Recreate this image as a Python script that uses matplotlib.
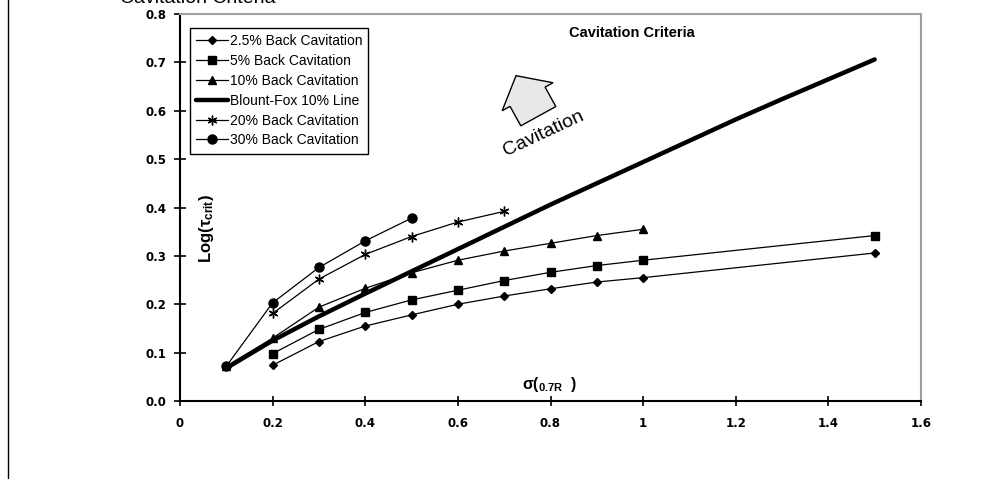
import matplotlib
matplotlib.use("Agg")
import matplotlib.pyplot as plt
import matplotlib.patches as mpatches
from matplotlib.lines import Line2D

plt.rcParams['font.family'] = ['Liberation Sans', 'DejaVu Sans']
plt.rcParams['mathtext.fontset'] = 'custom'
plt.rcParams['mathtext.rm'] = 'Liberation Sans'
plt.rcParams['mathtext.bf'] = 'Liberation Sans:bold'
plt.rcParams['mathtext.it'] = 'Liberation Sans:italic'

# sigma(0.7R) values and Log(tau_crit) per series
x_25 = [0.2, 0.3, 0.4, 0.5, 0.6, 0.7, 0.8, 0.9, 1.0, 1.5]
y_25 = [0.074, 0.123, 0.155, 0.178, 0.200, 0.217, 0.232, 0.246, 0.255, 0.306]

x_5 = [0.2, 0.3, 0.4, 0.5, 0.6, 0.7, 0.8, 0.9, 1.0, 1.5]
y_5 = [0.098, 0.148, 0.183, 0.209, 0.229, 0.249, 0.266, 0.280, 0.291, 0.342]

x_10 = [0.1, 0.2, 0.3, 0.4, 0.5, 0.6, 0.7, 0.8, 0.9, 1.0]
y_10 = [0.072, 0.130, 0.194, 0.233, 0.265, 0.291, 0.310, 0.326, 0.342, 0.355]

x_bf = [0.1, 0.2, 0.3, 0.4, 0.5, 0.6, 0.7, 0.8, 0.9, 1.0, 1.1, 1.2, 1.3, 1.4, 1.5]
y_bf = [0.068, 0.125, 0.175, 0.222, 0.268, 0.314, 0.360, 0.406, 0.450, 0.494,
        0.538, 0.582, 0.624, 0.665, 0.706]

x_20 = [0.2, 0.3, 0.4, 0.5, 0.6, 0.7]
y_20 = [0.181, 0.252, 0.303, 0.340, 0.370, 0.392]

x_30 = [0.1, 0.2, 0.3, 0.4, 0.5]
y_30 = [0.072, 0.203, 0.276, 0.331, 0.378]

xticks = [0, 0.2, 0.4, 0.6, 0.8, 1.0, 1.2, 1.4, 1.6]
xtick_labels = ['0', '0.2', '0.4', '0.6', '0.8', '1', '1.2', '1.4', '1.6']
yticks = [0.0, 0.1, 0.2, 0.3, 0.4, 0.5, 0.6, 0.7, 0.8]
ytick_labels = ['0.0', '0.1', '0.2', '0.3', '0.4', '0.5', '0.6', '0.7', '0.8']

fig = plt.figure(figsize=(10, 4.79), dpi=100)
ax = fig.add_axes([0.18, 0.1628, 0.741, 0.808])

thin = dict(color='black', linewidth=0.9)
asterisk = (6, 2, 0)

ax.plot(x_25, y_25, marker='D', markersize=4.5, label='2.5% Back Cavitation', **thin)
ax.plot(x_5, y_5, marker='s', markersize=5.5, label='5% Back Cavitation', **thin)
ax.plot(x_10, y_10, marker='^', markersize=6, label='10% Back Cavitation', **thin)
ax.plot(x_bf, y_bf, color='black', linewidth=3.2, solid_capstyle='round',
        label='Blount-Fox 10% Line')
ax.plot(x_20, y_20, marker=asterisk, markersize=7, markeredgewidth=1.0,
        label='20% Back Cavitation', **thin)
ax.plot(x_30, y_30, marker='o', markersize=6.5, label='30% Back Cavitation', **thin)

ax.set_xlim(0, 1.6)
ax.set_ylim(0, 0.8)
ax.set_xticks(xticks)
ax.set_xticklabels(xtick_labels)
ax.set_yticks(yticks)
ax.set_yticklabels(ytick_labels)
for lbl in ax.get_xticklabels() + ax.get_yticklabels():
    lbl.set_fontfamily('DejaVu Sans')
    lbl.set_fontweight('bold')
    lbl.set_fontsize(8.5)
ax.tick_params(axis='y', direction='inout', length=9, width=1.2, pad=5)
ax.tick_params(axis='x', direction='inout', length=7, width=1.2, pad=8)

for side in ['left', 'bottom']:
    ax.spines[side].set_linewidth(1.5)
    ax.spines[side].set_color('black')
for side in ['top', 'right']:
    ax.spines[side].set_linewidth(1.5)
    ax.spines[side].set_color('#a0a0a0')

leg = ax.legend(loc='upper left', bbox_to_anchor=(0.0135, 0.964), borderaxespad=0,
                fontsize=10, fancybox=False, framealpha=1, edgecolor='black',
                handlelength=2.3, handletextpad=0.1, labelspacing=0.42,
                borderpad=0.45)
leg.get_frame().set_linewidth(1.0)

ax.text(0.61, 0.951, 'Cavitation Criteria', transform=ax.transAxes,
        ha='center', va='center', fontsize=10.5, fontweight='bold')

# block arrow marking the cavitation region
arrow = mpatches.FancyArrow(5.383, 3.628, -0.223, 0.405, width=0.40,
                            head_width=0.58, head_length=0.24,
                            length_includes_head=True,
                            transform=fig.dpi_scale_trans,
                            facecolor='#e8e8e8', edgecolor='black', linewidth=1.0)
fig.add_artist(arrow)
ax.text(0.49, 0.69, 'Cavitation', transform=ax.transAxes, fontsize=14,
        rotation=25, ha='center', va='center')

ax.text(0.036, 0.445, r'Log($\mathbf{\tau}_{\mathbf{crit}}$)', transform=ax.transAxes,
        rotation=90, ha='center', va='center', fontsize=12, fontweight='bold')
ax.text(0.797, 0.035, r'$\mathbf{\sigma}$(${}_{\mathbf{0.7R}}$  )',
        ha='center', va='center', fontsize=11.5, fontweight='bold')

# partial heading cut off at the top of the page
fig.text(0.12, 1 - 3 / 479, 'Cavitation Criteria', fontsize=14,
         ha='left', va='baseline')

# page border on the left
fig.add_artist(Line2D([0.008, 0.008], [0, 1], transform=fig.transFigure,
                      color='black', linewidth=1.0))

fig.savefig('out.png', dpi=100)
